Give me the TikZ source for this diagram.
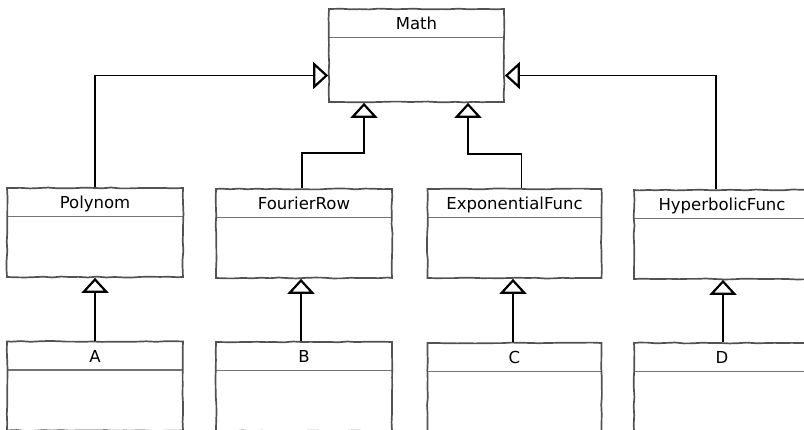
\documentclass[tikz,border=0pt]{standalone}
\usepackage{fontspec}
\setmainfont{DejaVu Sans}
\usetikzlibrary{arrows.meta,decorations.pathmorphing}

\tikzset{
  classbox/.style={draw=black!68, line width=1.7pt, fill=white,
    minimum width=176pt, minimum height=89pt, inner sep=0pt,
    decorate, decoration={random steps,segment length=9pt,amplitude=0.5pt},
    path picture={\draw[black!55,line width=1.1pt]
      ([yshift=-29pt]path picture bounding box.north west) --
      ([yshift=-29pt]path picture bounding box.north east);}},
  classtitle/.style={anchor=mid, yshift=-19pt, font=\fontsize{16.5}{19}\selectfont},
  inherit/.style={black, line width=1.5pt,
    -{Triangle[open,length=15pt,width=27pt,line width=2.2pt,fill=white]}}
}

\begin{document}
\pgfmathsetseed{11}
\begin{tikzpicture}[x=1pt,y=-1pt]
  \useasboundingbox (0,0) rectangle (804,430);
  \clip (0,0) rectangle (804,430);
  % base class
  \node[classbox, minimum width=175pt, minimum height=93pt,
        label={[classtitle]north:Math}]                (math)    at (416.5,55.5) {};
  % middle row
  \node[classbox, label={[classtitle]north:Polynom}]         (poly)    at (95,232.5)   {};
  \node[classbox, label={[classtitle]north:FourierRow}]      (fourier) at (304,233.5)  {};
  \node[classbox, minimum width=174pt,
        label={[classtitle]north:ExponentialFunc}]     (expo)    at (514.5,233.5){};
  \node[classbox, label={[classtitle]north:HyperbolicFunc}]  (hyper)   at (722,234.5)  {};
  % bottom row
  \node[classbox, label={[classtitle]north:A}]               (a)       at (95,386)     {};
  \node[classbox, label={[classtitle]north:B}]               (b)       at (304,386.5)  {};
  \node[classbox, minimum width=174pt,
        label={[classtitle]north:C}]                   (c)       at (514.5,387.5){};
  \node[classbox, label={[classtitle]north:D}]               (d)       at (722,387.5)  {};
  % generalisations
  \draw[inherit] (poly.north) |- ([yshift=-20pt]math.west);
  \draw[inherit] ([xshift=-6pt]hyper.north) |- ([yshift=-20pt]math.east);
  \draw[inherit] ([xshift=-2pt]fourier.north) -- ++(0,-35) -| ([xshift=-52.5pt]math.south);
  \draw[inherit] ([xshift=7pt]expo.north) -- ++(0,-34) -| ([xshift=51.5pt]math.south);
  \draw[inherit] (a.north) -- (poly.south);
  \draw[inherit] ([xshift=-3pt]b.north) -- ([xshift=-3pt]fourier.south);
  \draw[inherit] ([xshift=-1.5pt]c.north) -- ([xshift=-1.5pt]expo.south);
  \draw[inherit] ([xshift=1pt]d.north) -- ([xshift=1pt]hyper.south);
\end{tikzpicture}
\end{document}
